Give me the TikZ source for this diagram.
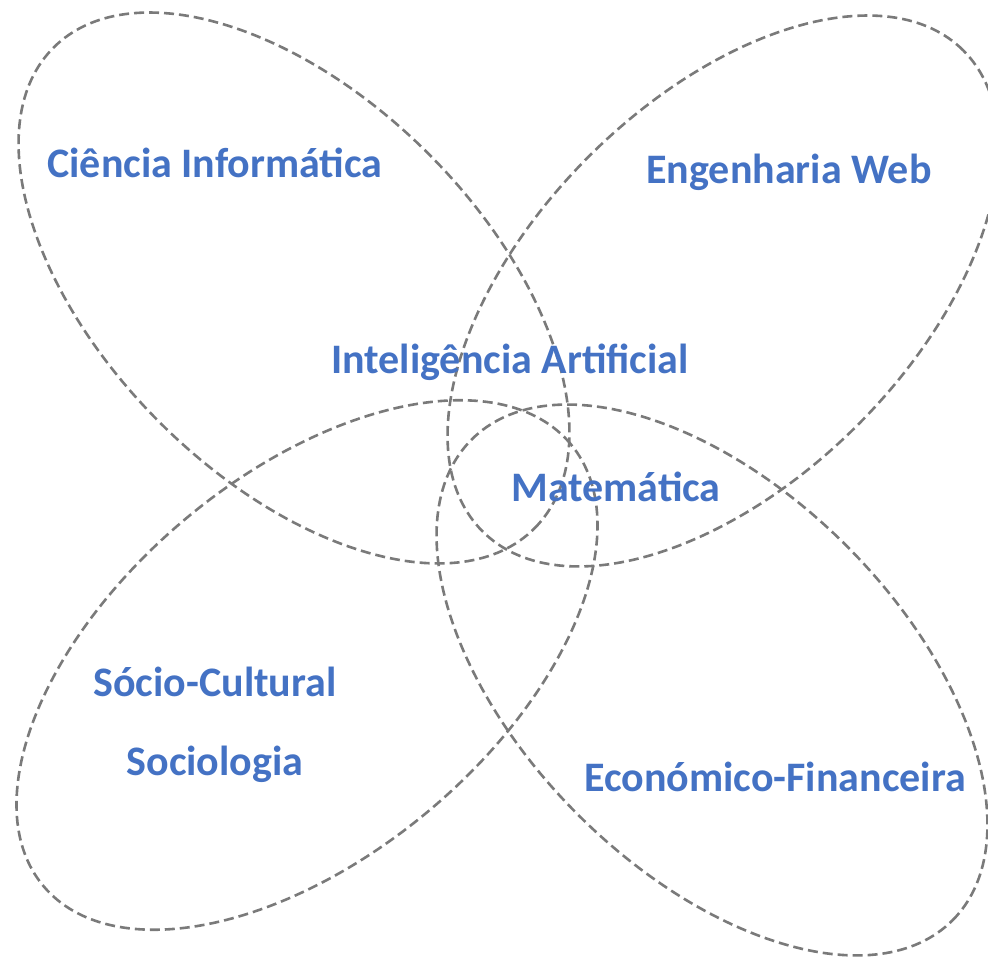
\documentclass[tikz,border=0pt]{standalone}
\usepackage{fontspec}
\setmainfont{Carlito}
\usepackage[]{xcolor}
\definecolor{areablue}{HTML}{4472C4}
\definecolor{areagray}{HTML}{7A7A7A}

\begin{document}
\begin{tikzpicture}[x = 1pt, y = 1pt,
  area/.style = {draw = areagray, line width = 2.6pt, dash pattern = on 10pt off 5pt},
  tema/.style = {text = areablue, font = \fontsize{42}{48}\selectfont\bfseries, inner sep = 0pt}]
\useasboundingbox (0,0) rectangle (988,958);
  \draw[area, rotate around = {-45:(294,670)}] (294,670) ellipse (340 and 190);
  \draw[area, rotate around = {45:(723,667)}] (723,667) ellipse (340 and 190);
  \draw[area, rotate around = {40:(307,293)}] (307,293) ellipse (344 and 190);
  \draw[area, rotate around = {-45:(712,278)}] (712,278) ellipse (340 and 190);

  \node[tema] (ciencia) at (215,795) {Ciência Informática};
  \node[tema] (web) at (789,786) {Engenharia Web};
  \node[tema] (ia) at (510,596) {Inteligência Artificial};
  \node[tema] (mat) at (616,471) {Matemática};
  \node[tema] (socio) at (215,276) {Sócio-Cultural};
  \node[tema] (sociologia) at (215,194) {Sociologia};
  \node[tema] (econ) at (775,181) {Económico-Financeira};
\end{tikzpicture}
\end{document}
